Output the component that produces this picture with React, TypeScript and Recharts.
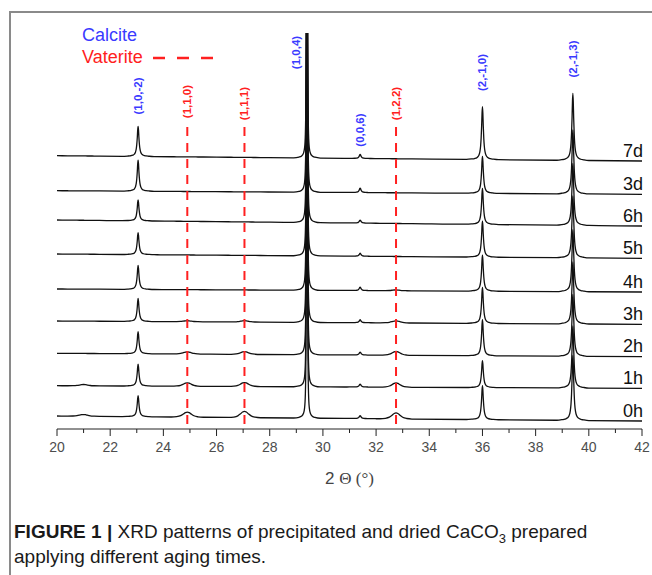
import React from 'react';
import { LineChart, Line, XAxis, YAxis, ReferenceLine, ReferenceDot, Legend } from 'recharts';

// ---------------- data ----------------
const samples = ['0h', '1h', '2h', '3h', '4h', '5h', '6h', '3d', '7d'];
// stacked baseline of each pattern (a.u.) at 2θ = 20° and at 2θ = 42°
const baseStart = [130, 433, 757, 1080, 1400, 1750, 2090, 2383, 2733];
const baseEnd = [80, 407, 723, 1047, 1370, 1707, 2030, 2347, 2680];

// reflections (2θ, °)
const peakPositions = [21.0, 23.05, 24.9, 27.05, 29.4, 31.4, 32.75, 36.0, 39.4];
const peakShapes = ['broad', 'narrow', 'broad', 'broad', 'sharp', 'narrow', 'broad', 'narrow', 'narrow'];
// peak heights (a.u.) per reflection, columns follow `samples`
const peakHeights = [
  [17, 13, 0, 0, 0, 0, 0, 0, 0],
  [210, 220, 220, 230, 240, 220, 210, 310, 300],
  [50, 35, 22, 10, 0, 0, 0, 0, 0],
  [62, 40, 27, 14, 0, 0, 0, 0, 0],
  [4000, 4000, 4000, 4000, 4000, 4000, 4000, 4000, 4000],
  [30, 30, 30, 30, 35, 30, 30, 45, 40],
  [60, 42, 38, 20, 8, 0, 0, 0, 0],
  [340, 270, 360, 360, 360, 360, 360, 370, 530],
  [650, 620, 620, 620, 620, 620, 620, 640, 670],
];

// peak profiles (offset in °, relative height)
const narrowOffsets = [-0.6, -0.4, -0.3, -0.2, -0.14, -0.1, -0.07, -0.05, -0.03, -0.015, 0, 0.015, 0.03, 0.05, 0.07, 0.1, 0.14, 0.2, 0.3, 0.4, 0.6];
const narrowRel = [0, 0.01, 0.018, 0.04, 0.075, 0.14, 0.25, 0.4, 0.64, 0.88, 1, 0.88, 0.64, 0.4, 0.25, 0.14, 0.075, 0.04, 0.018, 0.01, 0];
const sharpOffsets = [-0.5, -0.3, -0.2, -0.13, -0.09, -0.06, -0.04, -0.02, -0.008, 0, 0.008, 0.02, 0.04, 0.06, 0.09, 0.13, 0.2, 0.3, 0.5];
const sharpRel = [0, 0.002, 0.005, 0.012, 0.025, 0.06, 0.15, 0.45, 0.8, 1, 0.8, 0.45, 0.15, 0.06, 0.025, 0.012, 0.005, 0.002, 0];
const broadOffsets = [-0.6, -0.4, -0.25, -0.15, -0.07, 0, 0.07, 0.15, 0.25, 0.4, 0.6];
const broadRel = [0, 0.08, 0.28, 0.6, 0.9, 1, 0.9, 0.6, 0.28, 0.08, 0];

// annotations
const calciteLabels = ['(1,0,-2)', '(1,0,4)', '(0,0,6)', '(2,-1,0)', '(2,-1,3)'];
const calcitePos = [23.05, 29.0, 31.4, 36.0, 39.4];
const vateriteLabels = ['(1,1,0)', '(1,1,1)', '(1,2,2)'];
const vateritePos = [24.9, 27.05, 32.75];
const xTicks = [20, 21, 22, 23, 24, 25, 26, 27, 28, 29, 30, 31, 32, 33, 34, 35, 36, 37, 38, 39, 40, 41, 42];

// ---------------- layout / style ----------------
const Y_MAX = 3960;
const calciteLabelY = [3330, 3765, 2990, 3565, 3700];
const vateriteLabelY = [3275, 3255, 3255];
const dashTopY = 3020;
const BLUE = '#3a3aff';
const RED = '#ff2020';
const SANS = '"Liberation Sans", Arial, Helvetica, sans-serif';

// ---------------- build chart table ----------------
const profiles: Record<string, [number[], number[]]> = {
  narrow: [narrowOffsets, narrowRel],
  sharp: [sharpOffsets, sharpRel],
  broad: [broadOffsets, broadRel],
};
type Pt = { x: number; peak: number; rel: number };
const pts: Pt[] = [
  { x: 20, peak: -1, rel: 0 },
  { x: 42, peak: -1, rel: 0 },
];
peakPositions.forEach((p, i) => {
  const [offs, rels] = profiles[peakShapes[i]];
  offs.forEach((o, k) => pts.push({ x: +(p + o).toFixed(3), peak: i, rel: rels[k] }));
});
pts.sort((a, b) => a.x - b.x);

const tableData = pts.map((pt) => {
  const row: Record<string, number> = { x: pt.x };
  samples.forEach((s, j) => {
    const t = (pt.x - 20) / 22;
    const base = baseStart[j] + (baseEnd[j] - baseStart[j]) * t;
    const add = pt.peak >= 0 ? peakHeights[pt.peak][j] * pt.rel : 0;
    row[s] = Math.round((base + add) * 10) / 10;
  });
  return row;
});

// ---------------- render helpers ----------------
const XTick = (props: any) => {
  const { x, y, payload } = props;
  const major = payload.value % 2 === 0;
  return (
    <g>
      <line x1={x} x2={x} y1={y} y2={y + (major ? 7 : 4)} stroke="#222" strokeWidth={1} />
      {major && (
        <text x={x} y={y + 23} textAnchor="middle" fill="#4d4d4d" fontSize={14} fontFamily={SANS}>
          {payload.value}
        </text>
      )}
    </g>
  );
};

const rotatedLabel = (text: string, color: string) => (props: any) => {
  const vb = props.viewBox || {};
  const cx = vb.x ?? 0;
  const cy = vb.y ?? 0;
  return (
    <text
      x={cx}
      y={cy}
      transform={`rotate(-90 ${cx} ${cy})`}
      textAnchor="middle"
      dominantBaseline="central"
      fill={color}
      fontSize={11.5}
      fontWeight="bold"
      fontFamily={SANS}
    >
      {text}
    </text>
  );
};

const seriesLabel = (text: string) => (props: any) => {
  const vb = props.viewBox || {};
  return (
    <text x={(vb.x ?? 0) + 1} y={(vb.y ?? 0) - 4.5} textAnchor="end" fill="#111" fontSize={18} fontFamily={SANS}>
      {text}
    </text>
  );
};

const xAxisLabel = (props: any) => {
  const vb = props.viewBox || { x: 57, y: 429, width: 585 };
  return (
    <text x={vb.x + vb.width / 2} y={vb.y + 55} textAnchor="middle" fill="#444" fontSize={17}>
      <tspan fontFamily={SANS}>2 </tspan>
      <tspan fontFamily='"Liberation Serif", "Times New Roman", serif'>Θ (°)</tspan>
    </text>
  );
};

const yAxisLabel = (props: any) => {
  const vb = props.viewBox || { x: 57, y: 33, height: 396 };
  const cx = vb.x - 29;
  const cy = vb.y + vb.height / 2 + 12;
  return (
    <text
      x={cx}
      y={cy}
      transform={`rotate(-90 ${cx} ${cy})`}
      textAnchor="middle"
      dominantBaseline="central"
      fill="#4d4d4d"
      fontSize={18}
      fontFamily={SANS}
    >
      Intensity (a.u.)
    </text>
  );
};

const renderLegend = () => (
  <div style={{ position: 'relative', fontFamily: SANS, fontSize: 18, lineHeight: '22px', width: 160, height: 44 }}>
    <div style={{ color: BLUE }}>Calcite</div>
    <div style={{ color: RED }}>Vaterite</div>
    <svg width={66} height={6} style={{ position: 'absolute', left: 71, top: 31.3 }}>
      <line x1={0} y1={3} x2={62} y2={3} stroke={RED} strokeWidth={2.6} strokeDasharray="12 12" />
    </svg>
  </div>
);

export default function App() {
  return (
    <div style={{ position: 'absolute', left: 0, top: 0, width: 652, height: 575, background: '#fff', overflow: 'hidden' }}>
      <div
        style={{
          position: 'absolute',
          left: 9,
          top: 10.5,
          width: 660,
          height: 600,
          borderTop: '2px solid #8a8a8a',
          borderLeft: '2px solid #8a8a8a',
        }}
      />
      <div style={{ position: 'absolute', left: 0, top: 0 }}>
        <LineChart width={652} height={575} data={tableData} margin={{ top: 33, right: 10, bottom: 106, left: 57 }}>
          <XAxis
            type="number"
            dataKey="x"
            domain={[20, 42]}
            allowDataOverflow
            ticks={xTicks}
            interval={0}
            tickSize={0}
            tickMargin={0}
            tickLine={false}
            tick={<XTick />}
            axisLine={{ stroke: '#222', strokeWidth: 1 }}
            height={40}
            label={xAxisLabel}
          />
          <YAxis
            type="number"
            domain={[0, Y_MAX]}
            allowDataOverflow
            width={0}
            tick={false}
            tickLine={false}
            axisLine={{ stroke: '#333', strokeWidth: 1 }}
            label={yAxisLabel}
          />
          <Legend
            content={renderLegend}
            layout="horizontal"
            verticalAlign="middle"
            align="center"
            wrapperStyle={{ position: 'absolute', left: 82, top: 24, width: 160, height: 44, margin: 0 }}
          />
          {samples.map((s) => (
            <Line
              key={s}
              type="monotone"
              dataKey={s}
              stroke="#111"
              strokeWidth={1.3}
              dot={false}
              activeDot={false}
              isAnimationActive={false}
            />
          ))}
          {vateritePos.map((p, i) => (
            <ReferenceLine
              key={'vl' + i}
              segment={[
                { x: p, y: dashTopY },
                { x: p, y: 0 },
              ]}
              stroke={RED}
              strokeWidth={2}
              strokeDasharray="9 7"
              ifOverflow="visible"
            />
          ))}
          {vateriteLabels.map((t, i) => (
            <ReferenceDot
              key={'vt' + i}
              x={vateritePos[i]}
              y={vateriteLabelY[i]}
              r={0}
              stroke="none"
              fill="none"
              ifOverflow="visible"
              label={rotatedLabel(t, RED)}
            />
          ))}
          {calciteLabels.map((t, i) => (
            <ReferenceDot
              key={'ct' + i}
              x={calcitePos[i]}
              y={calciteLabelY[i]}
              r={0}
              stroke="none"
              fill="none"
              ifOverflow="visible"
              label={rotatedLabel(t, BLUE)}
            />
          ))}
          {samples.map((s, j) => (
            <ReferenceDot
              key={'sl' + s}
              x={42}
              y={baseEnd[j]}
              r={0}
              stroke="none"
              fill="none"
              ifOverflow="visible"
              label={seriesLabel(s)}
            />
          ))}
        </LineChart>
      </div>
      <div
        style={{
          position: 'absolute',
          left: 14,
          top: 519,
          width: 636,
          fontFamily: SANS,
          fontSize: 19,
          lineHeight: '25px',
          color: '#1a1a1a',
        }}
      >
        <span style={{ fontWeight: 'bold' }}>FIGURE 1 | </span>XRD patterns of precipitated and dried CaCO
        <sub style={{ fontSize: 13, lineHeight: 0 }}>3</sub> prepared
        <br />
        applying different aging times.
      </div>
    </div>
  );
}
